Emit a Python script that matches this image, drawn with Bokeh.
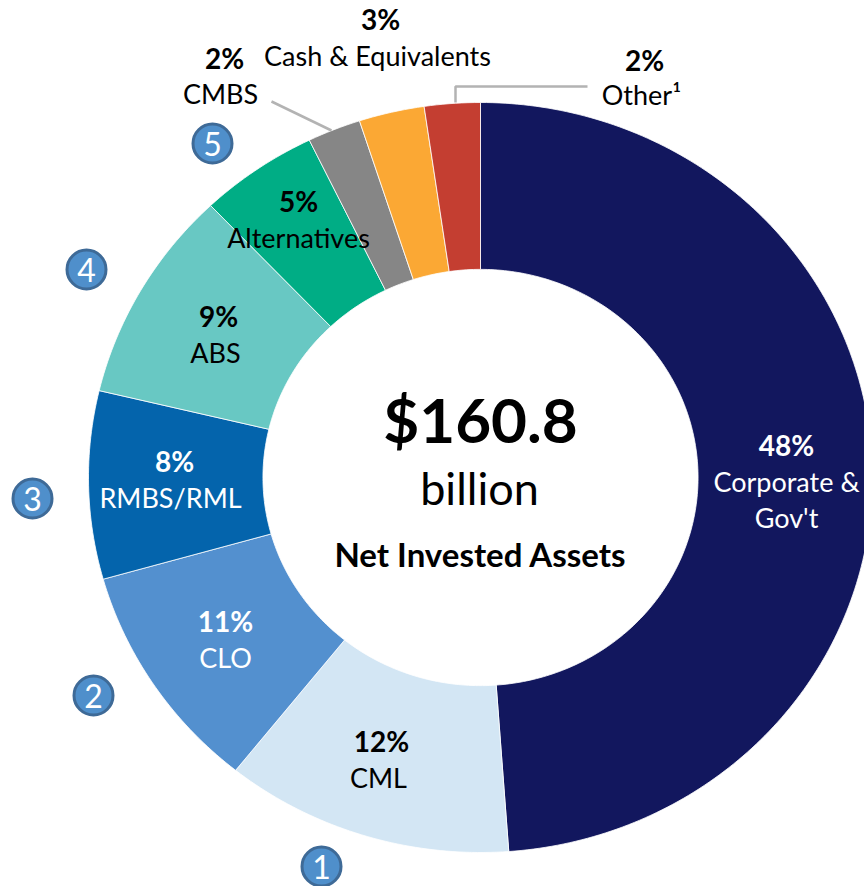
import math
from bokeh.plotting import figure
from bokeh.models import Range1d
from bokeh.core.properties import value
from bokeh.embed import file_html
from bokeh.resources import INLINE

# Categories, printed percentages, and the share of the ring each slice occupies as drawn
categories = ["Corporate & Gov't", "CML", "CLO", "RMBS/RML", "ABS", "Alternatives", "CMBS", "Cash & Equivalents", "Other"]
printed_pct = [48, 12, 11, 8, 9, 5, 2, 3, 2]
drawn_share = [48.9, 11.9, 9.9, 8.1, 9.2, 4.9, 2.2, 2.7, 2.3]
colors = ["#12175E", "#D3E6F4", "#5390CF", "#0464AC", "#68C8C3", "#00AD85", "#868686", "#FBA834", "#C43E31"]

CX, CY, RX, RY = 480, 477, 392, 375   # picture pixels of the ring
W, H = 864, 886
INNER = 0.555


def X(px):
    return (px - CX) / RX


def Y(py):
    return (CY - py) / RY


p = figure(width=W, height=H, output_backend="svg", toolbar_location=None,
           x_range=Range1d(X(0), X(W)), y_range=Range1d(Y(H), Y(0)),
           min_border=0, outline_line_color=None)
p.axis.visible = False
p.grid.visible = False
p.background_fill_color = "white"

xs, ys = [], []
total = sum(drawn_share)
cum = 0.0
for s in drawn_share:
    a0 = cum / total * 2 * math.pi
    cum += s
    a1 = cum / total * 2 * math.pi
    n = max(8, int(s * 4))
    ang = [a0 + (a1 - a0) * i / n for i in range(n + 1)]
    xs.append([math.sin(a) for a in ang] + [INNER * math.sin(a) for a in reversed(ang)])
    ys.append([math.cos(a) for a in ang] + [INNER * math.cos(a) for a in reversed(ang)])
p.patches(xs, ys, fill_color=colors, line_color="white", line_width=0.8)

# Leader lines
p.line([X(271), X(331)], [Y(101), Y(130)], line_color="#B3B3B3", line_width=2.5)
p.line([X(455), X(455), X(587)], [Y(102), Y(86), Y(86)], line_color="#B3B3B3", line_width=2.5)


def txt(s, px, py, size, bold=False, color="black"):
    p.text([X(px)], [Y(py)], text=[s], text_font=value("Lato"),
           text_font_size=f"{size}px", text_font_style="bold" if bold else "normal",
           text_color=color, text_align="center", text_baseline="middle")


LBL = 27
rows = [
    ("48%", 786, 444, True, "white"), ("Corporate &", 786, 481, False, "white"), ("Gov't", 786, 517, False, "white"),
    ("12%", 381, 740, True, "black"), ("CML", 378, 777, False, "black"),
    ("11%", 225, 620, True, "white"), ("CLO", 225, 657, False, "white"),
    ("8%", 174, 460, True, "white"), ("RMBS/RML", 170, 497, False, "white"),
    ("9%", 218, 315, True, "black"), ("ABS", 215, 352, False, "black"),
    ("5%", 298, 200, True, "black"), ("Alternatives", 298, 237, False, "black"),
    ("2%", 224, 57, True, "black"), ("CMBS", 220, 93, False, "black"),
    ("3%", 380, 18, True, "black"), ("Cash & Equivalents", 377, 55, False, "black"),
    ("2%", 644, 59, True, "black"), ("Other\u00b9", 641, 94, False, "black"),
]
for s, px, py, b, c in rows:
    txt(s, px, py, LBL + 1 if b else LBL, b, c)

txt("$160.8", 480, 418, 62, True)
txt("billion", 479, 487, 45)
txt("Net Invested Assets", 480, 553, 33, True)

# Numbered badges
badges = [("1", 321, 866), ("2", 93, 695), ("3", 32, 498), ("4", 86, 269), ("5", 212, 143)]
p.scatter([X(b[1]) for b in badges], [Y(b[2]) for b in badges], size=39,
          fill_color="#4F8FCB", line_color="#3E6A97", line_width=3)
for s, px, py in badges:
    txt(s, px, py, 32, False, "white")

open("out.html", "w").write(file_html(p, INLINE))
